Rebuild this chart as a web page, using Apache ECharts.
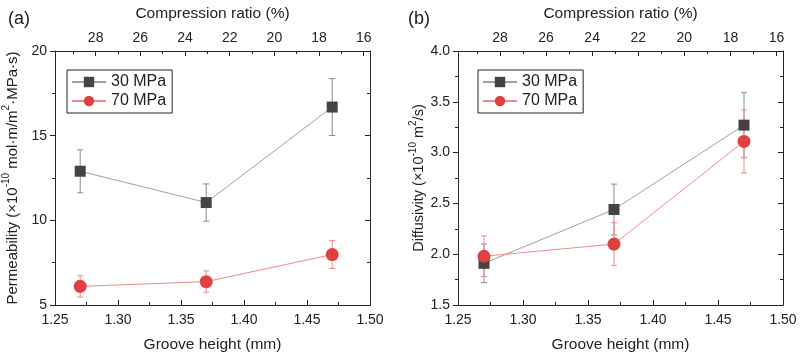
<!DOCTYPE html>
<html><head><meta charset="utf-8">
<script src="https://cdn.jsdelivr.net/npm/echarts@6/dist/echarts.min.js"></script>
<style>html,body{margin:0;padding:0;background:#fff}#c{width:800px;height:358px}</style>
</head><body><div id="c"></div>
<script>
// ---- data ----
const grooveHeight = [1.27, 1.37, 1.47];
const seriesNames = ['30 MPa', '70 MPa'];
const perm30 = [12.9, 11.05, 16.69];
const perm30Err = [1.27, 1.1, 1.68];
const perm70 = [6.1, 6.38, 7.98];
const perm70Err = [0.63, 0.63, 0.82];
const diff30 = [1.91, 2.44, 3.27];
const diff30Err = [0.19, 0.25, 0.32];
const diff70 = [1.98, 2.10, 3.11];
const diff70Err = [0.2, 0.21, 0.31];
const compressionRange = [15.72, 29.82];

const FONT = 'Liberation Sans, Arial, sans-serif';
const TXT = '#222';
const GRAY = '#444';
const GRAY_LINE = '#a0a0a0';
const RED = '#e04040';
const RED_LINE = '#f08a8a';

const chart = echarts.init(document.getElementById('c'), null, {renderer: 'canvas'});

function pairs(xs, ys) { return xs.map((x, i) => [x, ys[i]]); }
function errData(xs, ys, es) { return xs.map((x, i) => [x, ys[i] - es[i], ys[i] + es[i]]); }

function errSeries(xIdx, yIdx, data, color) {
  return {
    type: 'custom', xAxisIndex: xIdx, yAxisIndex: yIdx, data: data, z: 1, silent: true,
    renderItem: function (params, api) {
      const x = api.value(0);
      const lo = api.coord([x, api.value(1)]);
      const hi = api.coord([x, api.value(2)]);
      const w = 3;
      const st = {stroke: color, lineWidth: 1};
      return {type: 'group', children: [
        {type: 'line', shape: {x1: lo[0], y1: lo[1], x2: hi[0], y2: hi[1]}, style: st},
        {type: 'line', shape: {x1: lo[0] - w, y1: lo[1], x2: lo[0] + w, y2: lo[1]}, style: st},
        {type: 'line', shape: {x1: hi[0] - w, y1: hi[1], x2: hi[0] + w, y2: hi[1]}, style: st}
      ]};
    }
  };
}

function lineSeries(name, xIdx, yIdx, data, symbol, size, mColor, lColor) {
  return {
    name: name, type: 'line', xAxisIndex: xIdx, yAxisIndex: yIdx, data: data, z: 3,
    symbol: symbol, symbolSize: size, showAllSymbol: true,
    itemStyle: {color: mColor, borderWidth: 0},
    lineStyle: {color: lColor, width: 1},
    emphasis: {disabled: true}
  };
}

const labelStyle = {color: TXT, fontFamily: FONT, fontSize: 14};

function bottomAxis(gi) {
  return {
    type: 'value', gridIndex: gi, position: 'bottom', min: 1.25, max: 1.50, interval: 0.05,
    axisLine: {show: true, onZero: false, lineStyle: {color: TXT, width: 1}},
    axisTick: {show: true, inside: true, length: 5, lineStyle: {color: TXT}},
    minorTick: {show: true, splitNumber: 2, length: 3, lineStyle: {color: TXT}},
    splitLine: {show: false},
    axisLabel: Object.assign({margin: 8, formatter: v => v.toFixed(2)}, labelStyle),
    name: 'Groove height (mm)', nameLocation: 'middle', nameGap: 32,
    nameTextStyle: {color: TXT, fontFamily: FONT, fontSize: 15.5}
  };
}
function topAxis(gi) {
  return {
    type: 'value', gridIndex: gi, position: 'top', inverse: true,
    min: compressionRange[0], max: compressionRange[1], splitNumber: 7,
    axisLine: {show: true, onZero: false, lineStyle: {color: TXT, width: 1}},
    axisTick: {show: true, inside: true, length: 5, lineStyle: {color: TXT}},
    minorTick: {show: true, splitNumber: 2, length: 3, lineStyle: {color: TXT}},
    splitLine: {show: false},
    axisLabel: Object.assign({margin: 6, showMinLabel: false, showMaxLabel: false}, labelStyle),
    name: 'Compression ratio (%)', nameLocation: 'middle', nameGap: 29,
    nameTextStyle: {color: TXT, fontFamily: FONT, fontSize: 15.5}
  };
}
function leftAxis(gi, min, max, interval, fmt, nameRich, fs, gap) {
  return {
    type: 'value', gridIndex: gi, position: 'left', min: min, max: max, interval: interval,
    axisLine: {show: true, onZero: false, lineStyle: {color: TXT, width: 1}},
    axisTick: {show: true, inside: false, length: 5, lineStyle: {color: TXT}},
    minorTick: {show: true, splitNumber: 2, length: 3, lineStyle: {color: TXT}},
    splitLine: {show: false},
    axisLabel: Object.assign({margin: 8, formatter: fmt}, labelStyle),
    name: nameRich, nameLocation: 'middle', nameGap: gap, nameRotate: 90,
    nameTextStyle: {
      color: TXT, fontFamily: FONT, fontSize: fs,
      rich: {
        a: {fontSize: fs, fontFamily: FONT, color: TXT, lineHeight: fs + 4, verticalAlign: 'bottom'},
        s: {fontSize: Math.round(fs * 0.66), fontFamily: FONT, color: TXT, lineHeight: fs + 4, verticalAlign: 'top'}
      }
    }
  };
}
function rightAxis(gi, min, max, interval) {
  return {
    type: 'value', gridIndex: gi, position: 'right', min: min, max: max, interval: interval,
    axisLine: {show: true, onZero: false, lineStyle: {color: TXT, width: 1}},
    axisTick: {show: true, inside: true, length: 5, lineStyle: {color: TXT}},
    minorTick: {show: true, splitNumber: 2, length: 3, lineStyle: {color: TXT}},
    splitLine: {show: false}, axisLabel: {show: false}
  };
}

const legendBase = {
  orient: 'vertical', itemWidth: 34, itemHeight: 13, itemGap: 3,
  borderColor: TXT, borderWidth: 1, padding: [4, 6, 4, 4],
  textStyle: {color: TXT, fontFamily: FONT, fontSize: 16},
  data: seriesNames, selectedMode: false
};

const option = {
  animation: false,
  backgroundColor: '#fff',
  title: [
    {text: '(a)', left: 3, top: 5, textStyle: {color: TXT, fontFamily: FONT, fontSize: 18, fontWeight: 'normal'}},
    {text: '(b)', left: 403, top: 5, textStyle: {color: TXT, fontFamily: FONT, fontSize: 18, fontWeight: 'normal'}}
  ],
  grid: [
    {left: 47, right: 430, top: 51, bottom: 49, containLabel: false},
    {left: 458, right: 17, top: 51, bottom: 49, containLabel: false}
  ],
  xAxis: [bottomAxis(0), topAxis(0), bottomAxis(1), topAxis(1)],
  yAxis: [
    leftAxis(0, 5, 20, 5, v => String(v),
      '{a|Permeability (×10}{s|-10}{a| mol·m/m}{s|2}{a|·MPa·s)}', 15, 35),
    rightAxis(0, 5, 20, 5),
    leftAxis(1, 1.5, 4.0, 0.5, v => v.toFixed(1),
      '{a|Diffusivity (×10}{s|-10}{a| m}{s|2}{a|/s)}', 14.5, 29),
    rightAxis(1, 1.5, 4.0, 0.5)
  ],
  legend: [
    Object.assign({left: 67, top: 70}, legendBase),
    Object.assign({left: 478, top: 70}, legendBase)
  ],
  series: [
    errSeries(0, 0, errData(grooveHeight, perm30, perm30Err), '#8a8a8a'),
    errSeries(0, 0, errData(grooveHeight, perm70, perm70Err), RED_LINE),
    lineSeries(seriesNames[0], 0, 0, pairs(grooveHeight, perm30), 'rect', 11, GRAY, GRAY_LINE),
    lineSeries(seriesNames[1], 0, 0, pairs(grooveHeight, perm70), 'circle', 13, RED, RED_LINE),
    errSeries(2, 2, errData(grooveHeight, diff30, diff30Err), '#8a8a8a'),
    errSeries(2, 2, errData(grooveHeight, diff70, diff70Err), RED_LINE),
    lineSeries(seriesNames[0], 2, 2, pairs(grooveHeight, diff30), 'rect', 11, GRAY, GRAY_LINE),
    lineSeries(seriesNames[1], 2, 2, pairs(grooveHeight, diff70), 'circle', 13, RED, RED_LINE)
  ]
};
chart.setOption(option);
</script>
</body></html>
